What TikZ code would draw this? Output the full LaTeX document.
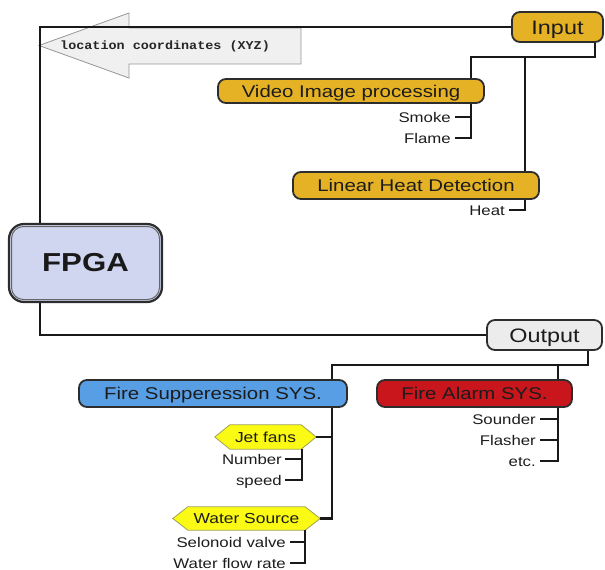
\documentclass[tikz,border=0pt]{standalone}
\usepackage{fontspec}
\setmainfont{Liberation Sans}[FakeStretch=1.2]
\newfontfamily\mymono{Liberation Mono}[FakeStretch=1.12]
\usetikzlibrary{backgrounds}
\definecolor{gold}{RGB}{229,178,38}
\definecolor{outgray}{RGB}{236,236,236}
\definecolor{fsblue}{RGB}{88,158,228}
\definecolor{fared}{RGB}{200,22,28}
\definecolor{hexyel}{RGB}{250,250,20}
\definecolor{hexedge}{RGB}{160,160,90}
\definecolor{lav}{RGB}{208,214,240}
\definecolor{arrfill}{RGB}{240,240,240}
\definecolor{arredge}{RGB}{150,150,150}
\definecolor{edge}{RGB}{45,45,45}
\definecolor{txt}{RGB}{28,28,28}
\tikzset{
  box/.style={draw=edge, line width=1.8pt, rounded corners=8pt, inner sep=0pt, text=txt,
    font=\fontsize{17}{20}\selectfont, text height=12.3pt, text depth=0pt},
  bigbox/.style={box, font=\fontsize{19.5}{22}\selectfont, text height=14pt},
  fpgabox/.style={draw=edge, line width=2.2pt, fill=lav, rounded corners=15pt,
    minimum width=153pt, minimum height=78pt, inner sep=0pt,
    font=\fontsize{26}{30}\selectfont\bfseries, text=black!90},
  fpgainner/.style={draw=black!60, line width=1pt, rounded corners=12pt},
  conn/.style={line width=2.3pt, draw=black!90},
  lbl/.style={anchor=east, inner sep=0pt, font=\fontsize{14}{16}\selectfont, text=txt,
    text height=10pt, text depth=0pt},
  hexlbl/.style={inner sep=0pt, minimum height=24pt, font=\fontsize{14.5}{17}\selectfont, text=txt,
    text height=10.4pt, text depth=0pt},
  hexshape/.style={draw=hexedge, line width=0.8pt, fill=hexyel},
  arrowshape/.style={draw=arredge, line width=0.8pt, fill=arrfill},
  loctext/.style={inner sep=0pt, font=\mymono\bfseries\fontsize{12}{14}\selectfont, text=black!85}
}
\begin{document}
\begin{tikzpicture}[x=1pt,y=-1pt]
\useasboundingbox (0,0) rectangle (605,570);
% big hollow arrow
\draw[arrowshape] (39,45.5) -- (129,13) -- (129,28) -- (301,28) -- (301,64) -- (129,64) -- (129,78) -- cycle;
\node[loctext, anchor=west] (loc) at (60,46) {location coordinates (XYZ)};
% main boxes
\node[bigbox, fill=gold, minimum width=91pt, minimum height=30pt] (inp) at (557.5,27) {Input};
\node[box, fill=gold, minimum width=266pt, minimum height=24pt] (vid) at (351,91) {Video Image processing};
\node[box, fill=gold, minimum width=246pt, minimum height=27pt] (lin) at (416,185.5) {Linear Heat Detection};
\node[fpgabox] (fpga) at (85.5,263) {FPGA};
\draw[fpgainner] ([xshift=3.6pt,yshift=-3.6pt]fpga.north west) rectangle ([xshift=-3.6pt,yshift=3.6pt]fpga.south east);
\node[bigbox, fill=outgray, minimum width=115pt, minimum height=30pt] (out) at (544.5,335) {Output};
\node[box, fill=fsblue, minimum width=268pt, minimum height=27pt] (fs) at (213,393.5) {Fire Supperession SYS.};
\node[box, fill=fared, minimum width=195pt, minimum height=27pt] (fa) at (474.5,393.5) {Fire Alarm SYS.};
\node[hexlbl, minimum width=101pt] (jet) at (265.5,437) {Jet fans};
\node[hexlbl, minimum width=147pt, minimum height=23pt] (water) at (246.5,518.5) {Water Source};
\begin{scope}[on background layer]
\foreach \n in {jet,water}
  \draw[hexshape] ([xshift=15pt]\n.north west) -- ([xshift=-15pt]\n.north east) -- (\n.east)
    -- ([xshift=-15pt]\n.south east) -- ([xshift=15pt]\n.south west) -- (\n.west) -- cycle;
\end{scope}
% labels
\node[lbl] (smoke) at (451,117) {Smoke};
\node[lbl] (flame) at (451,138) {Flame};
\node[lbl] (heat) at (505,210) {Heat};
\node[lbl] (number) at (282,459) {Number};
\node[lbl] (speed) at (282,480) {speed};
\node[lbl] (valve) at (286,542) {Selonoid valve};
\node[lbl] (flow) at (286,563) {Water flow rate};
\node[lbl] (sounder) at (536,419) {Sounder};
\node[lbl] (flasher) at (536,440) {Flasher};
\node[lbl] (etc) at (536,461) {etc.};
% connectors
\coordinate (tl) at (40,27);
\coordinate (bl) at (40,335);
\draw[conn] (inp.west) -- (tl) -- (tl |- fpga.north);
\draw[conn] (tl |- fpga.south) -- (bl) -- (out.west);
\coordinate (ia) at (595,57);
\coordinate (ib) at (471,57);
\coordinate (ic) at (525,57);
\draw[conn] (ia |- inp.south) -- (ia) -- (ib) -- (ib |- vid.north);
\draw[conn] (ic) -- (ic |- lin.north);
\draw[conn] (ib |- vid.south) |- ([xshift=4pt]flame.east);
\draw[conn] ([xshift=4pt]smoke.east) -- (smoke.east -| ib);
\draw[conn] (ic |- lin.south) |- ([xshift=4pt]heat.east);
\coordinate (oa) at (588,365);
\coordinate (ob) at (332,365);
\coordinate (oc) at (558,365);
\draw[conn] (oa |- out.south) -- (oa) -- (ob) -- (ob |- fs.north);
\draw[conn] (oc) -- (oc |- fa.north);
\draw[conn] (ob |- fs.south) |- (water.east);
\draw[conn] (jet.east) -- (jet.east -| ob);
\coordinate (jx) at (302,449);
\draw[conn] (jx |- jet.south) |- ([xshift=3pt]speed.east);
\draw[conn] ([xshift=3pt]number.east) -- (number.east -| jx);
\coordinate (wx) at (305,530);
\draw[conn] (wx |- water.south) |- ([xshift=4pt]flow.east);
\draw[conn] ([xshift=4pt]valve.east) -- (valve.east -| wx);
\draw[conn] (oc |- fa.south) |- ([xshift=4pt]etc.east);
\draw[conn] ([xshift=4pt]sounder.east) -- (sounder.east -| oc);
\draw[conn] ([xshift=4pt]flasher.east) -- (flasher.east -| oc);
\end{tikzpicture}
\end{document}
